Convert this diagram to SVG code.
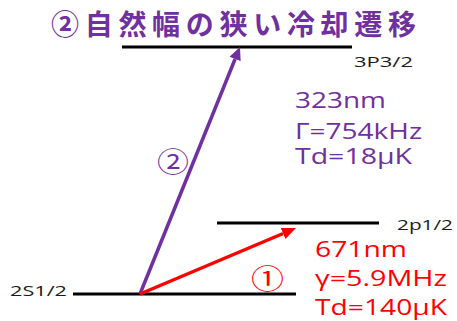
<svg xmlns="http://www.w3.org/2000/svg" width="457" height="321" viewBox="0 0 457 321">
<style>
.lvl{stroke:#000;stroke-width:3;fill:none}
.lbl{font-family:"Open Sans","Noto Sans",sans-serif;font-size:15px;fill:#1a1a1a}
.pur{fill:#7030A0}
.red{fill:#FF0000}
.big{font-family:"Open Sans","Noto Sans",sans-serif;font-size:21px}
.circ{font-family:"Noto Sans CJK JP",sans-serif;font-size:27px}
</style>
<defs>
<marker id="ahP" markerUnits="userSpaceOnUse" markerWidth="14" markerHeight="14" refX="0" refY="6" orient="auto" viewBox="0 0 14 12">
<path d="M0,0 L13,6 L0,12 z" fill="#7030A0"/>
</marker>
<marker id="ahR" markerUnits="userSpaceOnUse" markerWidth="15" markerHeight="14" refX="0" refY="6" orient="auto" viewBox="0 0 15 12">
<path d="M0,0 L14,6 L0,12 z" fill="#FF0000"/>
</marker>
</defs>
<rect width="457" height="321" fill="#fff"/>
<g id="title">
<text x="51" y="35" font-family="'Noto Sans CJK JP',sans-serif" font-size="28" font-weight="bold" fill="#7030A0" textLength="365" lengthAdjust="spacing">②自然幅の狭い冷却遷移</text>
</g>
<g id="level-3P32">
<line class="lvl" x1="122" y1="47" x2="352" y2="47"/>
<text class="lbl" x="354" y="67" textLength="59" lengthAdjust="spacingAndGlyphs">3P3/2</text>
</g>
<g id="level-2p12">
<line class="lvl" x1="217" y1="223" x2="379" y2="223"/>
<text class="lbl" x="397" y="230" textLength="56" lengthAdjust="spacingAndGlyphs">2p1/2</text>
</g>
<g id="level-2S12">
<line class="lvl" x1="73" y1="294" x2="296" y2="294"/>
<text class="lbl" x="10" y="296" textLength="57" lengthAdjust="spacingAndGlyphs">2S1/2</text>
</g>
<g id="connectors">
<line x1="140" y1="294" x2="235.1" y2="59" stroke="#7030A0" stroke-width="3.5" marker-end="url(#ahP)"/>
<line x1="140" y1="294" x2="283.1" y2="233.5" stroke="#FF0000" stroke-width="3.5" marker-end="url(#ahR)"/>
</g>
<g id="label-2">
<text class="circ pur" x="157" y="172" textLength="32" lengthAdjust="spacingAndGlyphs">②</text>
<text class="big pur" x="295" y="108" textLength="91" lengthAdjust="spacingAndGlyphs">323nm</text>
<text class="big pur" x="295" y="139" textLength="127" lengthAdjust="spacingAndGlyphs">Γ=754kHz</text>
<text class="big pur" x="295" y="164" textLength="117" lengthAdjust="spacingAndGlyphs">Td=18μK</text>
</g>
<g id="label-1">
<text class="circ red" x="251" y="289" textLength="33" lengthAdjust="spacingAndGlyphs">①</text>
<text class="big red" x="315" y="257" textLength="92" lengthAdjust="spacingAndGlyphs">671nm</text>
<text class="big red" x="315" y="286" textLength="132" lengthAdjust="spacingAndGlyphs">γ=5.9MHz</text>
<text class="big red" x="315" y="315" textLength="132" lengthAdjust="spacingAndGlyphs">Td=140μK</text>
</g>
</svg>
